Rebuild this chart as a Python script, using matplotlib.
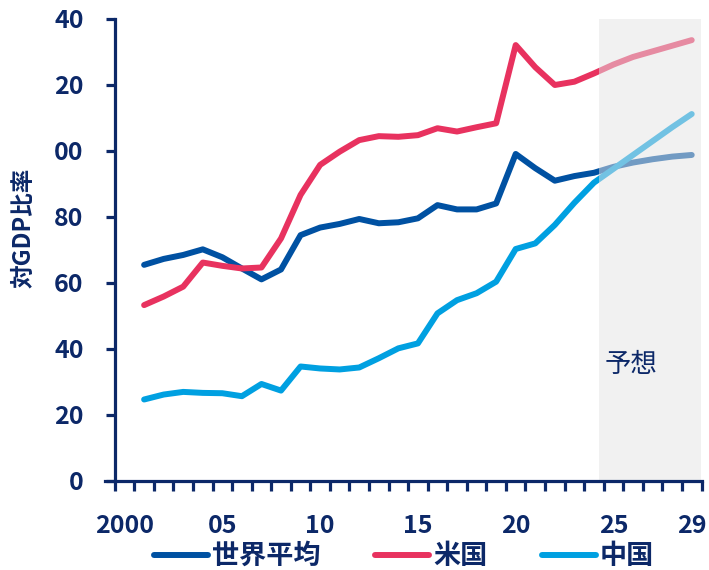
import matplotlib
matplotlib.use("Agg")
import matplotlib.pyplot as plt
from matplotlib.patches import Rectangle

plt.rcParams['font.family'] = ['Noto Sans CJK JP', 'DejaVu Sans']

years = list(range(2001, 2030))
world = [65.5, 67.3, 68.5, 70.2, 67.8, 64.4, 61.1, 64.1, 74.5, 76.8, 77.9, 79.4, 78.1, 78.4,
         79.6, 83.6, 82.3, 82.3, 84.1, 99.1, 94.8, 91.0, 92.4, 93.4, 95.2, 96.5, 97.5, 98.3, 98.8]
usa = [53.3, 55.9, 58.9, 66.2, 65.2, 64.4, 64.7, 73.5, 86.7, 95.8, 99.8, 103.3, 104.5, 104.3,
       104.8, 106.9, 105.9, 107.2, 108.4, 132.1, 125.4, 120.0, 121.0, 123.5, 126.2, 128.5,
       130.2, 131.9, 133.6]
china = [24.7, 26.2, 27.0, 26.7, 26.6, 25.7, 29.4, 27.4, 34.7, 34.1, 33.8, 34.4, 37.2, 40.2,
         41.7, 50.8, 54.8, 56.9, 60.4, 70.3, 72.0, 77.6, 84.3, 90.4, 94.6, 98.8, 103.0, 107.2, 111.2]

series_names = ['世界平均', '米国', '中国']
xtick_years = [2000, 2005, 2010, 2015, 2020, 2025, 2029]
xtick_labels = ['2000', '05', '10', '15', '20', '25', '29']
ytick_values = [0, 20, 40, 60, 80, 100, 120, 140]
ytick_labels = ['0', '20', '40', '60', '80', '00', '20', '40']
forecast_start = 2024.26
forecast_label = '予想'

navy = '#0c2868'
c_world = '#0051a2'
c_usa = '#e8325f'
c_china = '#00a0e1'

fig = plt.figure(figsize=(7.09, 5.70), dpi=100)
ax = fig.add_axes([105 / 709, 89 / 570, 596.5 / 709, 462 / 570])
ax.set_xlim(1999.0, 2029.5)
ax.set_ylim(0, 140)

lw = 4.3
ax.plot(years, world, color=c_world, lw=lw, solid_capstyle='round', solid_joinstyle='round',
        zorder=2.0, label=series_names[0])
ax.plot(years, usa, color=c_usa, lw=lw, solid_capstyle='round', solid_joinstyle='round',
        zorder=2.0, label=series_names[1])
ax.plot(years, china, color=c_china, lw=lw, solid_capstyle='round', solid_joinstyle='round',
        zorder=2.0, label=series_names[2])

ax.add_patch(Rectangle((forecast_start, 0), 2029.5 - forecast_start, 140,
                       facecolor='#e5e5e5', alpha=0.5, edgecolor='none', zorder=2.2))
ax.text(2025.89, 35.2, forecast_label, color=navy, fontsize=19, style='italic',
        ha='center', va='center', zorder=4)

for s in ['top', 'right']:
    ax.spines[s].set_visible(False)
ax.spines['left'].set_position(('data', 1999.5))
for s in ['left', 'bottom']:
    ax.spines[s].set_color(navy)
    ax.spines[s].set_linewidth(2.3)
    ax.spines[s].set_zorder(3)

ax.set_yticks(ytick_values)
ax.set_yticklabels(ytick_labels)
ax.tick_params(axis='y', colors=navy, length=6.5, width=2.3, pad=16, labelsize=18)
for t in ax.get_yticklabels():
    t.set_fontweight('bold')

ax.set_xticks([y - 0.5 for y in range(2000, 2031)], minor=True)
ax.set_xticks(xtick_years)
ax.set_xticklabels(xtick_labels)
ax.tick_params(axis='x', which='minor', colors=navy, length=7, width=2.3)
ax.tick_params(axis='x', which='major', colors=navy, length=0, pad=24, labelsize=18)
for t in ax.get_xticklabels():
    t.set_fontweight('bold')

fig.text(24 / 709, 1 - 228 / 570, '対GDP比率', rotation=90, color=navy, fontsize=17,
         fontweight='bold', ha='center', va='center')

leg = fig.legend(loc='center', bbox_to_anchor=(404 / 709, 1 - 556 / 570), ncol=3,
                 frameon=False, handlelength=2.0, handletextpad=0.15, columnspacing=2.0,
                 borderpad=0.1, prop={'size': 19.5, 'weight': 'bold'})
for t in leg.get_texts():
    t.set_color(navy)

fig.savefig('out.png', dpi=100)
